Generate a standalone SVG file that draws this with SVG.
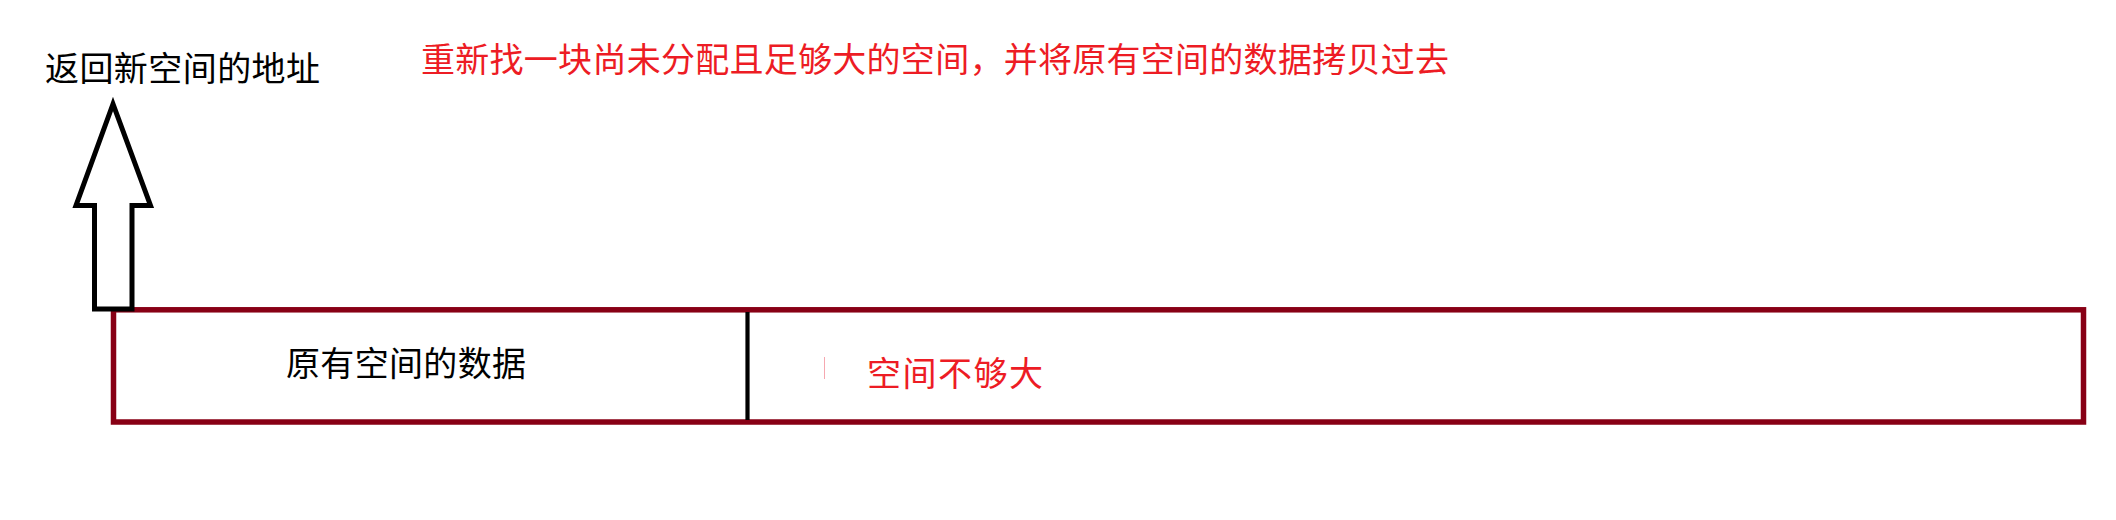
<svg xmlns="http://www.w3.org/2000/svg" width="2116" height="520" viewBox="0 0 2116 520">
  <style>
    .t { font-family: "Microsoft YaHei", "Noto Sans CJK SC", "Noto Sans", sans-serif; font-size: 34px; }
    .black { fill: #000000; }
    .red { fill: #ED1C24; }
  </style>
  <rect x="0" y="0" width="2116" height="520" fill="#ffffff"/>
  <g id="title-return">
    <text class="t black" x="45" y="81" textLength="275" lengthAdjust="spacing">返回新空间的地址</text>
  </g>
  <g id="title-realloc">
    <text class="t red" x="421" y="72" textLength="1028" lengthAdjust="spacing">重新找一块尚未分配且足够大的空间，并将原有空间的数据拷贝过去</text>
  </g>
  <g id="memory-block">
    <rect x="113.5" y="309.8" width="1970" height="112.2" fill="none" stroke="#880015" stroke-width="5.5"/>
    <line x1="747.5" y1="312" x2="747.5" y2="420" stroke="#000000" stroke-width="4.2"/>
  </g>
  <g id="old-data">
    <text class="t black" x="286" y="376" textLength="240" lengthAdjust="spacing">原有空间的数据</text>
  </g>
  <g id="not-enough">
    <line x1="824.5" y1="357" x2="824.5" y2="379" stroke="#f6a8b0" stroke-width="1"/>
    <text class="t red" x="867" y="385.5" textLength="176" lengthAdjust="spacing">空间不够大</text>
  </g>
  <g id="connectors">
    <path d="M113,104 L76,205.5 L94.5,205.5 L94.5,309 L132,309 L132,205.5 L150.5,205.5 Z" fill="#ffffff" stroke="#000000" stroke-width="5" stroke-linejoin="miter"/>
  </g>
</svg>
